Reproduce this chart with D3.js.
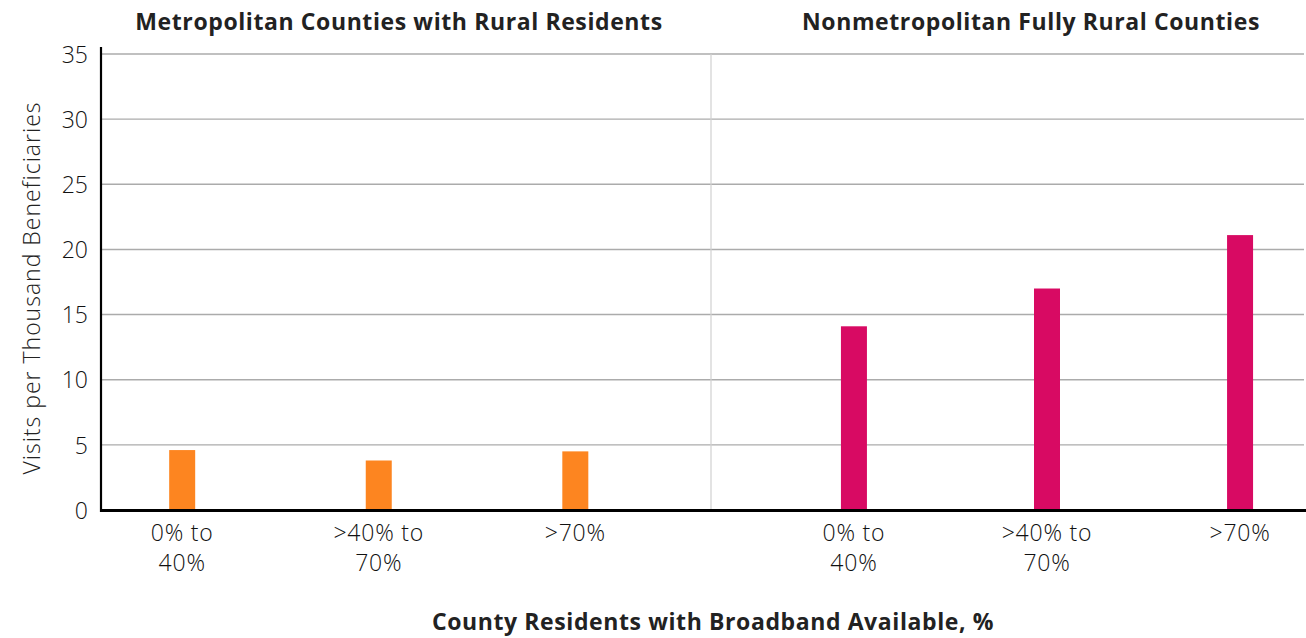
<!DOCTYPE html>
<html><head><meta charset="utf-8">
<script src="https://cdn.jsdelivr.net/npm/d3@7/dist/d3.min.js"></script>
<style>
body{margin:0;background:#fff;}
svg{display:block;}
</style></head>
<body><svg id="c" width="1306" height="638"></svg>
<script>
const panels = ["Metropolitan Counties with Rural Residents", "Nonmetropolitan Fully Rural Counties"];
const categories = [["0% to", "40%"], [">40% to", "70%"], [">70%"]];
const metroValues = [4.6, 3.8, 4.5];
const nonmetroValues = [14.1, 17.0, 21.1];
const yTicks = [0, 5, 10, 15, 20, 25, 30, 35];
const yTitle = "Visits per Thousand Beneficiaries";
const xTitle = "County Residents with Broadband Available, %";
const colors = ["#FD8520", "#D80A63"];

(function(){
const svg = d3.select("#c");
const mLeft = 101, mRight = 1306, mTop = 54, mBottom = 510, divider = 711;
const font = "'Open Sans', 'Noto Sans', sans-serif";

const y = d3.scaleLinear().domain([0, 35]).range([mBottom, mTop]);
const catKeys = categories.map(c => c.join(" "));
const xL = d3.scaleBand().domain(catKeys).range([84, 673.5]).paddingInner(0.867).paddingOuter(0.433);
const xR = d3.scaleBand().domain(catKeys).range([757.5, 1336.5]).paddingInner(0.865).paddingOuter(0.432);

// gridlines
svg.append("g").selectAll("line").data(yTicks.filter(d => d > 0)).join("line")
  .attr("x1", mLeft).attr("x2", mRight - 2)
  .attr("y1", d => y(d)).attr("y2", d => y(d))
  .attr("stroke", "#ababab").attr("stroke-width", 1.4);

// divider
svg.append("line").attr("x1", divider).attr("x2", divider)
  .attr("y1", y(35)).attr("y2", mBottom)
  .attr("stroke", "#d0d0d0").attr("stroke-width", 1.2);

// bars
const series = [{x: xL, vals: metroValues, c: colors[0]}, {x: xR, vals: nonmetroValues, c: colors[1]}];
series.forEach(s => {
  svg.append("g").selectAll("rect").data(s.vals).join("rect")
    .attr("x", (d, i) => s.x(catKeys[i]) + s.x.bandwidth() / 2 - 13)
    .attr("width", 26)
    .attr("y", d => y(d))
    .attr("height", d => mBottom - y(d))
    .attr("fill", s.c);
  const g = svg.append("g");
  categories.forEach((c, i) => {
    const cx = s.x(catKeys[i]) + s.x.bandwidth() / 2;
    const t = g.append("text")
      .attr("x", cx).attr("y", 541)
      .attr("text-anchor", "middle")
      .attr("font-family", font).attr("font-size", 23).attr("font-weight", 300)
      .attr("letter-spacing", 0.8)
      .attr("fill", "#111");
    c.forEach((line, j) => {
      t.append("tspan").attr("x", cx).attr("dy", j === 0 ? 0 : 30).text(line);
    });
  });
});

// y axis
const yAxis = d3.axisLeft(y).tickValues(yTicks).tickSize(0).tickPadding(13);
const ya = svg.append("g").attr("transform", `translate(${mLeft},0)`).call(yAxis);
ya.select(".domain").remove();
ya.selectAll("text").attr("font-family", font).attr("font-size", 23).attr("font-weight", 300).attr("fill", "#111").attr("dy", "0.36em");
svg.append("line").attr("x1", mLeft).attr("x2", mLeft).attr("y1", 47).attr("y2", mBottom + 2)
  .attr("stroke", "#000").attr("stroke-width", 2.2);

// baseline
svg.append("line").attr("x1", mLeft - 1).attr("x2", mRight).attr("y1", mBottom + 0.5).attr("y2", mBottom + 0.5)
  .attr("stroke", "#000").attr("stroke-width", 3);

// titles
const bold = sel => sel.attr("text-anchor", "middle").attr("font-family", font).attr("font-size", 23)
  .attr("font-weight", 700).attr("letter-spacing", 0.6).attr("fill", "#222");
svg.append("text").attr("x", 399).attr("y", 30).call(bold).text(panels[0]);
svg.append("text").attr("x", 1031).attr("y", 30).call(bold).text(panels[1]);
svg.append("text").attr("x", 713).attr("y", 630).call(bold).text(xTitle);
svg.append("text").attr("transform", "translate(40,288) rotate(-90)").attr("text-anchor", "middle")
  .attr("font-family", font).attr("font-size", 23).attr("font-weight", 300).attr("letter-spacing", 1)
  .attr("fill", "#222").text(yTitle);
})();
</script></body></html>
